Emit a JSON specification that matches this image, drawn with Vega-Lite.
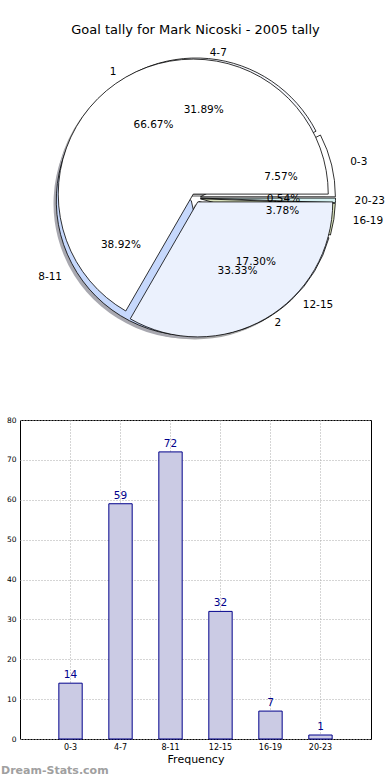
{
  "$schema": "https://vega.github.io/schema/vega-lite/v6.json",
  "background": "white",
  "padding": {"top": 24, "left": 0, "right": 0, "bottom": 0},
  "config": {"font": "DejaVu Sans", "text": {"font": "DejaVu Sans"}, "title": {"font": "DejaVu Sans"}, "axis": {"labelFont": "DejaVu Sans", "titleFont": "DejaVu Sans"}},
  "datasets": {
    "inner": [
      {"g": "0-3", "n": 14},
      {"g": "4-7", "n": 59},
      {"g": "8-11", "n": 72},
      {"g": "12-15", "n": 32},
      {"g": "16-19", "n": 7},
      {"g": "20-23", "n": 1}
    ],
    "outer": [
      {"g": "1", "n": 2},
      {"g": "2", "n": 1}
    ]
  },
  "spacing": 61,
  "vconcat": [
    {
      "width": 351,
      "height": 312,
      "view": {"stroke": null},
      "title": {"text": "Goal tally for Mark Nicoski - 2005 tally", "fontSize": 13, "fontWeight": "normal", "anchor": "middle", "frame": "group", "offset": 5, "color": "#000"},
      "layer": [
        {
          "data": {"name": "outer"},
          "transform": [{"stack": "n", "groupby": [], "offset": "normalize", "as": ["s0", "s1"]}],
          "encoding": {
            "theta": {"field": "s0", "type": "quantitative", "scale": {"domain": [0, 1], "range": [1.5708, -4.7124]}},
            "theta2": {"field": "s1"}
          },
          "layer": [
            {"transform": [{"filter": {"field": "g", "equal": "1"}}], "mark": {"type": "arc", "outerRadius": 135, "fill": "#a8a8a8", "xOffset": -5, "yOffset": -1}},
            {"transform": [{"filter": {"field": "g", "equal": "2"}}], "mark": {"type": "arc", "outerRadius": 135, "fill": "#a8a8a8", "xOffset": -0.5, "yOffset": 6.5}}
          ]
        },
        {
          "data": {"name": "inner"},
          "transform": [{"stack": "n", "groupby": [], "offset": "normalize", "as": ["s0", "s1"]}],
          "encoding": {
            "theta": {"field": "s0", "type": "quantitative", "scale": {"domain": [0, 1], "range": [1.5708, -4.7124]}},
            "theta2": {"field": "s1"}
          },
          "layer": [
            {"transform": [{"filter": {"field": "g", "equal": "8-11"}}], "mark": {"type": "arc", "outerRadius": 135, "fill": "#a8a8b0", "xOffset": -7, "yOffset": 5.5}},
            {"transform": [{"filter": {"field": "g", "equal": "0-3"}}], "mark": {"type": "arc", "outerRadius": 135, "fill": "#ffffff", "stroke": "#000", "strokeWidth": 0.8, "xOffset": 4.9, "yOffset": -1.2}},
            {"transform": [{"filter": {"field": "g", "equal": "4-7"}}], "mark": {"type": "arc", "outerRadius": 135, "fill": "#f7f9ff", "stroke": "#000", "strokeWidth": 0.8, "xOffset": 0.5, "yOffset": -5}},
            {"transform": [{"filter": {"field": "g", "equal": "8-11"}}], "mark": {"type": "arc", "outerRadius": 135, "fill": "#c6d8fc", "stroke": "#000", "strokeWidth": 0.8, "xOffset": -4.2, "yOffset": 2.7}},
            {"transform": [{"filter": {"field": "g", "equal": "12-15"}}], "mark": {"type": "arc", "outerRadius": 135, "fill": "#e4ecfb", "stroke": "#000", "strokeWidth": 0.8, "xOffset": 3.4, "yOffset": 3.6}},
            {"transform": [{"filter": {"field": "g", "equal": "16-19"}}], "mark": {"type": "arc", "outerRadius": 135, "fill": "#dde6c0", "stroke": "#000", "strokeWidth": 0.8, "xOffset": 4.9, "yOffset": 0.8}},
            {"transform": [{"filter": {"field": "g", "equal": "20-23"}}], "mark": {"type": "arc", "outerRadius": 135, "fill": "#d5f2f2", "stroke": "#000", "strokeWidth": 0.8, "xOffset": 5, "yOffset": 0.1}}
          ]
        },
        {
          "data": {"name": "outer"},
          "transform": [{"stack": "n", "groupby": [], "offset": "normalize", "as": ["s0", "s1"]}],
          "encoding": {
            "theta": {"field": "s0", "type": "quantitative", "scale": {"domain": [0, 1], "range": [1.5708, -4.7124]}},
            "theta2": {"field": "s1"}
          },
          "layer": [
            {"transform": [{"filter": {"field": "g", "equal": "1"}}], "mark": {"type": "arc", "outerRadius": 135, "fill": "#ffffff", "stroke": "#000", "strokeWidth": 0.8, "xOffset": -2.25, "yOffset": -3.9}},
            {"transform": [{"filter": {"field": "g", "equal": "2"}}], "mark": {"type": "arc", "outerRadius": 135, "fill": "#ebf1fd", "stroke": "#000", "strokeWidth": 0.8, "xOffset": 2.25, "yOffset": 3.9}}
          ]
        },
        {
          "data": {"name": "inner"},
          "transform": [
            {"stack": "n", "groupby": [], "offset": "normalize", "as": ["s0", "s1"]},
            {"calculate": "(datum.s0 + datum.s1) / 2", "as": "mid"},
            {"calculate": "datum.s1 - datum.s0", "as": "pct"}
          ],
          "encoding": {
            "theta": {"field": "mid", "type": "quantitative", "scale": {"domain": [0, 1], "range": [1.5708, -4.7124]}}
          },
          "layer": [
            {"transform": [{"filter": {"field": "g", "oneOf": ["8-11"]}}], "mark": {"type": "text", "radius": 154, "align": "right", "baseline": "middle", "fontSize": 10.5, "color": "#000", "dx": -3, "dy": -3}, "encoding": {"text": {"field": "g"}}},
            {"transform": [{"filter": {"field": "g", "oneOf": ["0-3", "16-19", "20-23"]}}], "mark": {"type": "text", "radius": 154, "align": "left", "baseline": "middle", "fontSize": 10.5, "color": "#000", "dx": 5}, "encoding": {"text": {"field": "g"}}},
            {"transform": [{"filter": {"field": "g", "equal": "4-7"}}], "mark": {"type": "text", "radius": 152, "align": "left", "baseline": "middle", "fontSize": 10.5, "color": "#000", "dy": 6}, "encoding": {"text": {"field": "g"}}},
            {"transform": [{"filter": {"field": "g", "equal": "12-15"}}], "mark": {"type": "text", "radius": 152, "align": "left", "baseline": "middle", "fontSize": 10.5, "color": "#000", "dx": 3, "dy": -4}, "encoding": {"text": {"field": "g"}}},
            {"mark": {"type": "text", "radius": 88, "align": "center", "baseline": "middle", "fontSize": 10.5, "color": "#000"}, "encoding": {"text": {"field": "pct", "type": "quantitative", "format": ".2%"}}}
          ]
        },
        {
          "data": {"name": "outer"},
          "transform": [
            {"stack": "n", "groupby": [], "offset": "normalize", "as": ["s0", "s1"]},
            {"calculate": "(datum.s0 + datum.s1) / 2", "as": "mid"},
            {"calculate": "datum.s1 - datum.s0", "as": "pct"}
          ],
          "encoding": {
            "theta": {"field": "mid", "type": "quantitative", "scale": {"domain": [0, 1], "range": [1.5708, -4.7124]}}
          },
          "layer": [
            {"transform": [{"filter": {"field": "g", "equal": "1"}}], "mark": {"type": "text", "radius": 150, "align": "right", "baseline": "middle", "fontSize": 10.5, "color": "#000", "dx": -4, "dy": 4}, "encoding": {"text": {"field": "g"}}},
            {"transform": [{"filter": {"field": "g", "equal": "2"}}], "mark": {"type": "text", "radius": 150, "align": "left", "baseline": "middle", "fontSize": 10.5, "color": "#000", "dx": 4, "dy": -5}, "encoding": {"text": {"field": "g"}}},
            {"mark": {"type": "text", "radius": 84, "align": "center", "baseline": "middle", "fontSize": 10.5, "color": "#000"}, "encoding": {"text": {"field": "pct", "type": "quantitative", "format": ".2%"}}}
          ]
        }
      ]
    },
    {
      "width": 351,
      "height": 319,
      "view": {"stroke": "#000", "strokeWidth": 1},
      "title": {"text": "Dream-Stats.com", "orient": "bottom", "anchor": "start", "frame": "bounds", "fontSize": 11, "fontWeight": "bold", "color": "#a0a0a0", "offset": 1},
      "data": {"name": "inner"},
      "encoding": {
        "x": {"field": "g", "type": "nominal", "sort": null, "scale": {"paddingInner": 0.533, "paddingOuter": 0.777},
              "axis": {"title": "Frequency", "titleFontSize": 11, "titleFontWeight": "normal", "titlePadding": 2, "titleColor": "#000", "labelFontSize": 8, "labelAngle": 0, "labelPadding": 4, "labelColor": "#000", "ticks": false, "domain": false, "grid": true, "gridDash": [1, 2], "gridColor": "#aaa", "bandPosition": 0.5}},
        "y": {"field": "n", "type": "quantitative", "scale": {"domain": [0, 80], "nice": false},
              "axis": {"title": null, "values": [0, 10, 20, 30, 40, 50, 60, 70, 80], "labelFontSize": 7.5, "labelColor": "#000", "labelPadding": 4, "ticks": false, "domain": false, "grid": true, "gridDash": [1, 2], "gridColor": "#aaa", "minExtent": 19, "maxExtent": 19}}
      },
      "layer": [
        {"mark": {"type": "bar", "fill": "#cbcbe4", "stroke": "#00008b", "strokeWidth": 1}},
        {"mark": {"type": "text", "baseline": "bottom", "dy": -3, "fontSize": 10.5, "color": "#00008b"}, "encoding": {"text": {"field": "n", "type": "quantitative"}}}
      ]
    }
  ]
}
